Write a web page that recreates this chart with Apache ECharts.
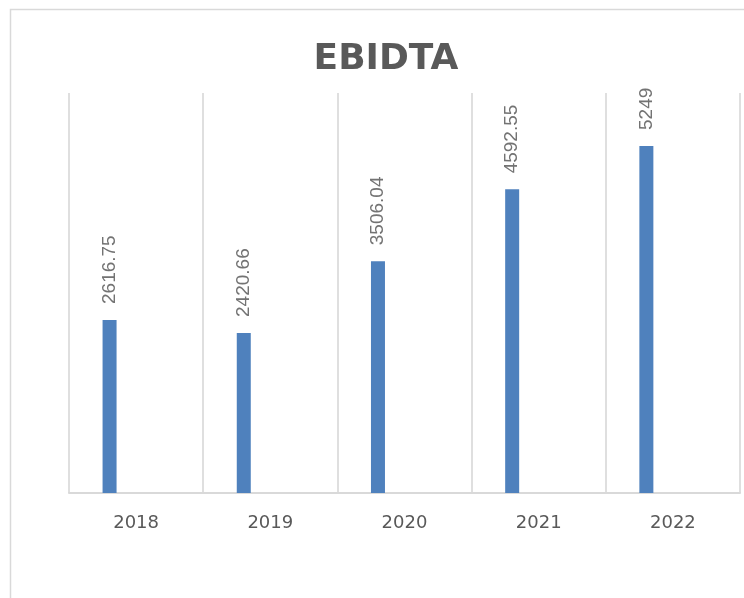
<!DOCTYPE html>
<html>
<head>
<meta charset="utf-8">
<script src="https://cdn.jsdelivr.net/npm/echarts@6/dist/echarts.min.js"></script>
<style>
  html, body { margin: 0; padding: 0; background: #fff; }
  #main { width: 744px; height: 598px; }
</style>
</head>
<body>
<div id="main"></div>
<script>
var years = ['2018', '2019', '2020', '2021', '2022'];
var ebitda = [2616.75, 2420.66, 3506.04, 4592.55, 5249];
// second (empty) series keeps the slot to the right of each bar, like in the sheet
var emptySeries = [];

var myChart = echarts.init(document.getElementById('main'));
myChart.setOption({
    backgroundColor: '#fff',
    animation: false,
    title: {
        text: 'EBIDTA',
        left: 381,
        textAlign: 'center',
        top: 37,
        textStyle: {
            color: '#595959',
            fontFamily: 'DejaVu Sans',
            fontWeight: 'bold',
            fontSize: 36
        }
    },
    graphic: [{
        type: 'rect',
        shape: { x: 10.5, y: 9.5, width: 760, height: 620 },
        style: { fill: 'none', stroke: '#d9d9d9', lineWidth: 1.5 },
        silent: true
    }],
    grid: {
        left: 69,
        right: 4,
        top: 93,
        bottom: 105
    },
    xAxis: {
        type: 'category',
        data: years,
        axisLine: { lineStyle: { color: '#d9d9d9', width: 2 } },
        axisTick: { show: false },
        splitLine: { show: true, lineStyle: { color: '#d4d4d4', width: 1.5 } },
        axisLabel: {
            color: '#595959',
            fontFamily: 'DejaVu Sans',
            fontSize: 18,
            margin: 21
        }
    },
    yAxis: {
        type: 'value',
        min: 0,
        max: 6050,
        show: false,
        splitLine: { show: false }
    },
    series: [
        {
            name: 'EBIDTA',
            type: 'bar',
            data: ebitda,
            barWidth: 14,
            barGap: '279%',
            itemStyle: { color: '#4f81bd' },
            label: {
                show: true,
                position: 'top',
                distance: 16,
                rotate: 90,
                align: 'left',
                verticalAlign: 'middle',
                color: '#737373',
                fontFamily: 'Liberation Sans',
                fontSize: 19
            }
        },
        {
            name: 'blank',
            type: 'bar',
            data: emptySeries,
            barWidth: 14
        }
    ]
});
</script>
</body>
</html>
